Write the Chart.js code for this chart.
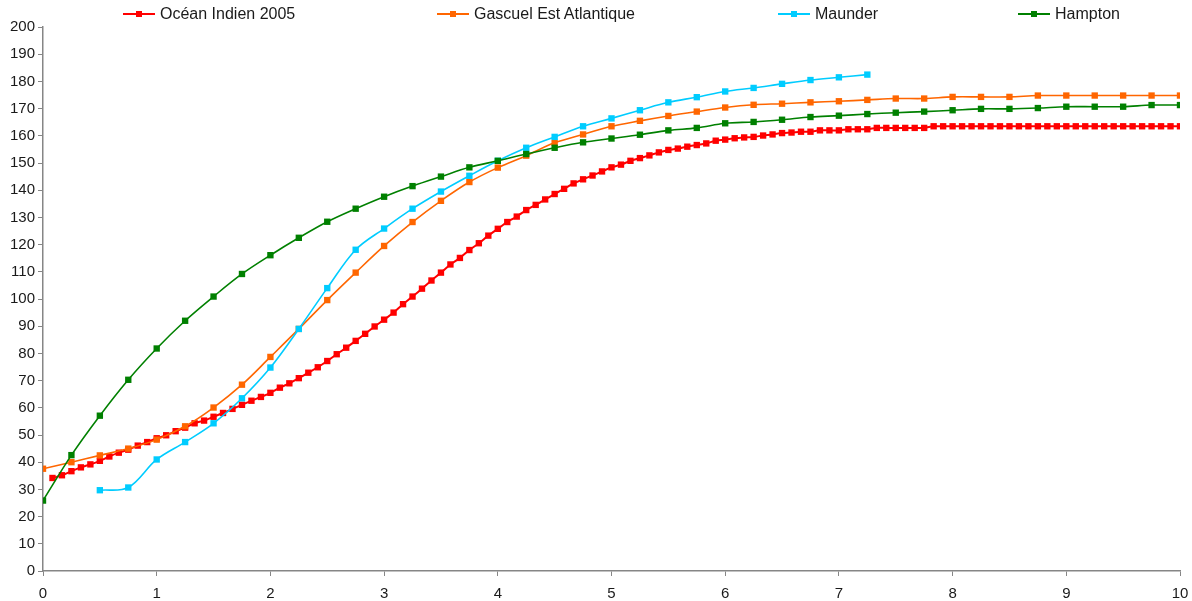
<!DOCTYPE html>
<html>
<head>
<meta charset="utf-8">
<script src="https://cdn.jsdelivr.net/npm/chart.js@4"></script>
<style>
  body { margin: 0; background: #fff; }
  #wrap { position: relative; width: 1192px; height: 601px; }
  .legend-item { position: absolute; top: 4px; height: 20px; display: flex; align-items: center;
                 font: 16px "Liberation Sans", Arial, sans-serif; color: #1a1a1a; white-space: nowrap; }
  .legend-line { position: relative; width: 32px; height: 2px; margin-right: 5px; }
  .legend-mark { position: absolute; left: 13px; top: -2px; width: 6px; height: 6px; }
</style>
</head>
<body>
<div id="wrap">
  <canvas id="growth-chart" width="1192" height="601"></canvas>
  <div id="legend"></div>
</div>
<script>
// ==================================== DATA ====================================

// ages (years) for the quarterly series
const quarterAges = [0, 0.25, 0.5, 0.75, 1, 1.25, 1.5, 1.75, 2, 2.25, 2.5, 2.75, 3, 3.25, 3.5, 3.75,
    4, 4.25, 4.5, 4.75, 5, 5.25, 5.5, 5.75, 6, 6.25, 6.5, 6.75, 7, 7.25, 7.5, 7.75,
    8, 8.25, 8.5, 8.75, 9, 9.25, 9.5, 9.75, 10];
const maunderAges = quarterAges.slice(2, 30); // 0.5 .. 7.25

// Océan Indien 2005: one value per month, from month 1 to month 120
const oceanIndien = [34.2, 35.2, 36.7, 38.1, 39.2, 40.5, 42.1, 43.5, 44.6, 46.1, 47.4, 48.8,
    49.9, 51.4, 52.7, 54.3, 55.3, 56.7, 58.1, 59.6, 61.1, 62.6, 64.0, 65.5,
    67.4, 69.0, 70.9, 72.9, 74.9, 77.2, 79.7, 82.1, 84.6, 87.2, 89.9, 92.4,
    95.0, 98.1, 100.9, 103.8, 106.8, 109.7, 112.7, 115.1, 118.0, 120.5, 123.3, 125.8,
    128.3, 130.3, 132.7, 134.6, 136.6, 138.6, 140.5, 142.5, 144.0, 145.4, 146.9, 148.4,
    149.4, 150.8, 151.8, 152.8, 153.9, 154.8, 155.3, 156.0, 156.6, 157.2, 158.2, 158.6,
    159.1, 159.4, 159.6, 160.1, 160.5, 161.0, 161.2, 161.5, 161.5, 162.0, 162.0, 162.0,
    162.4, 162.4, 162.4, 162.9, 162.9, 162.9, 162.9, 162.9, 162.9, 163.5, 163.5, 163.5,
    163.5, 163.5, 163.5, 163.5, 163.5, 163.5, 163.5, 163.5, 163.5, 163.5, 163.5, 163.5,
    163.5, 163.5, 163.5, 163.5, 163.5, 163.5, 163.5, 163.5, 163.5, 163.5, 163.5, 163.5];

const gascuel = [37.6, 40.0, 42.5, 45.0, 48.3, 53.2, 60.1, 68.5, 78.7, 89.0, 99.6, 109.7, 119.5,
    128.3, 136.1, 143.0, 148.3, 152.7, 157.4, 160.5, 163.5, 165.5, 167.3, 168.9, 170.4,
    171.4, 171.8, 172.3, 172.7, 173.2, 173.7, 173.7, 174.3, 174.3, 174.3, 174.8, 174.8,
    174.8, 174.8, 174.8, 174.8];

const maunder = [29.7, 30.7, 41.0, 47.4, 54.3, 63.5, 74.8, 89.0, 104.0, 118.1, 125.9, 133.2,
    139.5, 145.3, 150.8, 155.6, 159.6, 163.5, 166.4, 169.4, 172.3, 174.2, 176.3, 177.6,
    179.1, 180.5, 181.5, 182.5];

const hampton = [25.9, 42.6, 57.1, 70.3, 81.8, 92.0, 100.9, 109.2, 116.1, 122.5, 128.4, 133.2,
    137.6, 141.5, 145.0, 148.4, 150.8, 153.3, 155.6, 157.6, 159.0, 160.4, 162.0, 162.9,
    164.6, 165.1, 165.9, 166.9, 167.4, 168.0, 168.5, 168.9, 169.4, 169.9, 169.9, 170.2,
    170.7, 170.7, 170.7, 171.3, 171.3];

const seriesNames = ['Océan Indien 2005', 'Gascuel Est Atlantique', 'Maunder', 'Hampton'];
const seriesColors = ['#ff0000', '#ff6600', '#00ccff', '#008000'];
const legendLefts = [123, 437, 778, 1018];

// ==================================== CHART ===================================

function toPoints(xs, ys) {
    return ys.map((y, i) => ({x: xs[i], y: y}));
}

function makeDataset(idx, points, width) {
    return {
        label: seriesNames[idx],
        data: points,
        borderColor: seriesColors[idx],
        backgroundColor: seriesColors[idx],
        borderWidth: width,
        pointStyle: 'rect',
        pointRadius: 4.5,
        pointBorderWidth: 0,
        tension: 0.35,
        order: 3 - idx // later series drawn on top, like excel
    };
}

function makeGrowthChart() {
    const context = document.querySelector('#growth-chart').getContext('2d');
    const monthAges = oceanIndien.map((v, i) => (i + 1) / 12);
    const axisColor = '#868686';
    const tickFont = {family: '"Liberation Sans", Arial, sans-serif', size: 15};

    const data = {
        datasets: [
            makeDataset(0, toPoints(monthAges, oceanIndien), 2),
            makeDataset(1, toPoints(quarterAges, gascuel), 1.6),
            makeDataset(2, toPoints(maunderAges, maunder), 1.6),
            makeDataset(3, toPoints(quarterAges, hampton), 1.6)
        ]
    };
    const chartOptions = {
        responsive: false,
        animation: false,
        layout: {padding: {top: 27, right: 12, left: 0, bottom: 0}},
        scales: {
            x: {
                type: 'linear',
                min: 0,
                max: 10,
                ticks: {stepSize: 1, color: '#1a1a1a', font: tickFont, padding: 9, maxRotation: 0},
                grid: {drawOnChartArea: false, color: axisColor, tickLength: 5},
                border: {color: axisColor, width: 1.5},
                afterFit: (scale) => {
                    scale.height = 30;
                    scale.paddingLeft = 0;
                    scale.paddingRight = 0;
                }
            },
            y: {
                min: 0,
                max: 200,
                ticks: {stepSize: 10, color: '#1a1a1a', font: tickFont, padding: 3},
                grid: {drawOnChartArea: false, color: axisColor, tickLength: 5},
                border: {color: axisColor, width: 1.5},
                afterFit: (scale) => {
                    scale.width = 43;
                    scale.paddingTop = 0;
                    scale.paddingBottom = 0;
                }
            }
        },
        plugins: {
            legend: {display: false},
            tooltip: {enabled: false}
        }
    };
    new Chart(context, {type: 'line', data: data, options: chartOptions});
}

// legend is plain html so the four entries can sit where excel put them
function makeLegend() {
    const legend = document.querySelector('#legend');
    seriesNames.forEach((name, i) => {
        const item = document.createElement('div');
        item.className = 'legend-item';
        item.style.left = legendLefts[i] + 'px';
        item.innerHTML = '<span class="legend-line" style="background:' + seriesColors[i] + '">' +
            '<span class="legend-mark" style="background:' + seriesColors[i] + '"></span></span>' +
            '<span>' + name + '</span>';
        legend.appendChild(item);
    });
}

makeGrowthChart();
makeLegend();
</script>
</body>
</html>
